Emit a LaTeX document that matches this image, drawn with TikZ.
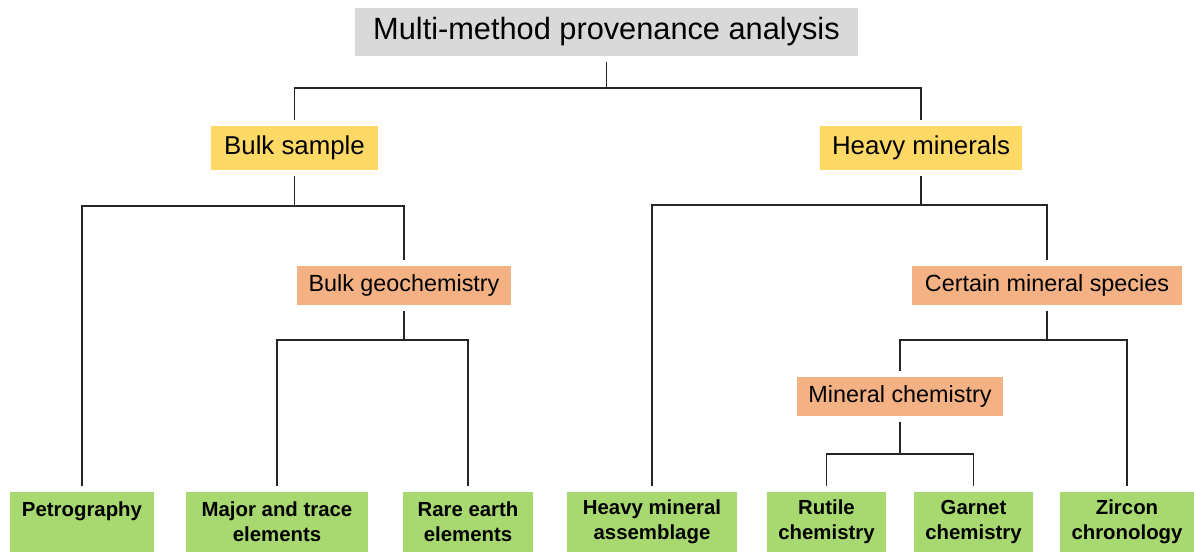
\documentclass[tikz,border=0pt]{standalone}
\usepackage{fontspec}
\setmainfont{Liberation Sans}
\usepackage{xcolor}
\usetikzlibrary{positioning, calc}
\definecolor{titlegray}{HTML}{D9D9D9}
\definecolor{levelyellow}{HTML}{FFD966}
\definecolor{levelorange}{HTML}{F4B183}
\definecolor{leafgreen}{HTML}{A8D870}

\begin{document}
\begin{tikzpicture}[x=0.02cm, y=-0.02cm,
    box/.style={inner sep=0pt, outer xsep=0pt, outer ysep=0.12cm, align=center},
    titlebox/.style={box, fill=titlegray, font=\fontsize{17.5}{21}\selectfont},
    groupbox/.style={box, fill=levelyellow, font=\fontsize{14.7}{18}\selectfont},
    subbox/.style={box, fill=levelorange, font=\fontsize{13.3}{16}\selectfont},
    leafbox/.style={box, fill=leafgreen, font=\fontsize{11.6}{14.2}\selectfont\bfseries},
    link/.style={black!85, line width=0.6pt}]
  \useasboundingbox (0,0) rectangle (1194,552);
  % root
  \node[titlebox, minimum width=503*0.02cm, minimum height=48*0.02cm] (title) at (606.5,32) {Multi-method provenance analysis};
  % yellow level
  \node[groupbox, minimum width=167*0.02cm, minimum height=44*0.02cm] (bulk) at (294.5,148) {Bulk sample};
  \node[groupbox, minimum width=202*0.02cm, minimum height=44*0.02cm] (heavy) at (921,148) {Heavy minerals};
  % orange level
  \node[subbox, minimum width=214*0.02cm, minimum height=39*0.02cm] (bulkgeo) at (404,285.5) {Bulk geochemistry};
  \node[subbox, minimum width=270*0.02cm, minimum height=39*0.02cm] (species) at (1047,285.5) {Certain mineral species};
  \node[subbox, minimum width=206*0.02cm, minimum height=39*0.02cm] (minchem) at (900,396.5) {Mineral chemistry};
  % green leaves
  \foreach \n/\x/\w/\t in {petro/82/144/{Petrography\\\phantom{P}},
      majtr/277/182/{Major and trace\\elements},
      ree/468/130/{Rare earth\\elements},
      hma/652/170/{Heavy mineral\\assemblage},
      rutile/826.5/119/{Rutile\\chemistry},
      garnet/973.5/119/{Garnet\\chemistry},
      zircon/1127/134/{Zircon\\chronology}}
    \node[leafbox, minimum width=\w*0.02cm, minimum height=60*0.02cm] (\n) at (\x,522) {\t};
  % connectors
  \draw[link] (title.south) -- ++(0,26) coordinate (ta);
  \draw[link] (bulk.north) |- (ta) -| (heavy.north);
  \draw[link] (bulk.south) -- ++(0,30) coordinate (ba);
  \draw[link] (petro.north) |- (ba) -| (bulkgeo.north);
  \draw[link] (bulkgeo.south) -- ++(0,29) coordinate (ga);
  \draw[link] (majtr.north) |- (ga) -| (ree.north);
  \draw[link] (heavy.south) -- ++(0,29) coordinate (ha);
  \draw[link] (hma.north) |- (ha) -| (species.north);
  \draw[link] (species.south) -- ++(0,29) coordinate (sa);
  \draw[link] (minchem.north) |- (sa) -| (zircon.north);
  \draw[link] (minchem.south) -- ++(0,32) coordinate (ma);
  \draw[link] (rutile.north) |- (ma) -| (garnet.north);
\end{tikzpicture}
\end{document}
